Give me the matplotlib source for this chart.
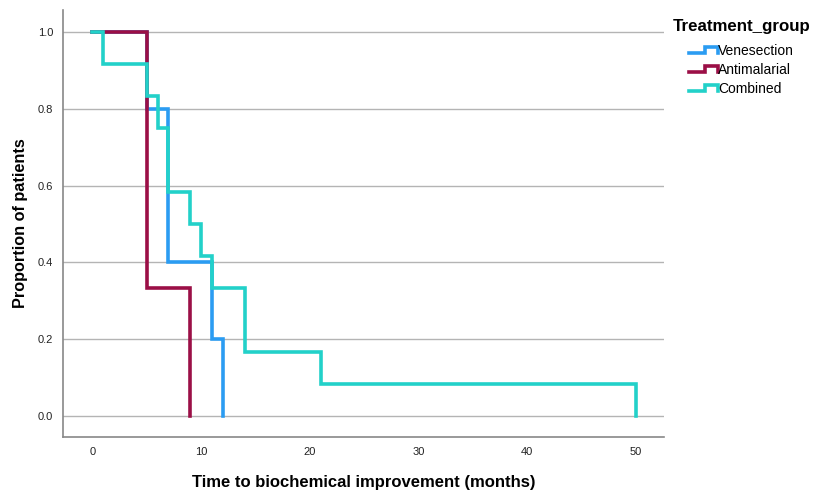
import matplotlib
matplotlib.use("Agg")
import matplotlib.pyplot as plt
from matplotlib.legend_handler import HandlerBase
from matplotlib.lines import Line2D

# Kaplan-Meier step data (time in months, proportion remaining)
venesection_t = [0, 5, 7, 11, 12]
venesection_p = [1.0, 0.8, 0.4, 0.2, 0.0]

antimalarial_t = [0, 5, 9]
antimalarial_p = [1.0, 0.333, 0.0]

combined_t = [0, 1, 5, 6, 7, 9, 10, 11, 14, 21, 50]
combined_p = [1.0, 0.917, 0.833, 0.75, 0.583, 0.5, 0.417, 0.333, 0.167, 0.083, 0.0]

group_names = ["Venesection", "Antimalarial", "Combined"]
colors = ["#2b9cf2", "#9b0f46", "#22d1c9"]

x_ticks = [0, 10, 20, 30, 40, 50]
y_ticks = [0.0, 0.2, 0.4, 0.6, 0.8, 1.0]

plt.rcParams["font.family"] = ["Liberation Sans", "DejaVu Sans"]


class StepHandler(HandlerBase):
    # draws a little step symbol like the SPSS legend
    def create_artists(self, legend, orig_handle, xdescent, ydescent,
                       width, height, fontsize, trans):
        x0, x1 = -xdescent, -xdescent + width
        ym = height / 2 - ydescent
        xs = [x0, x0 + width * 0.55, x0 + width * 0.55, x1, x1]
        ys = [ym - 2.0, ym - 2.0, ym + 2.0, ym + 2.0, ym - 2.0]
        line = Line2D(xs, ys, color=orig_handle.get_color(),
                      lw=orig_handle.get_linewidth(), transform=trans,
                      solid_joinstyle="miter")
        return [line]


fig = plt.figure(figsize=(8.13, 4.92), dpi=100)
ax = fig.add_axes([0.0775, 0.112, 0.7395, 0.868])

series = [(venesection_t, venesection_p),
          (antimalarial_t, antimalarial_p),
          (combined_t, combined_p)]
handles = []
for (t, p), name, c in zip(series, group_names, colors):
    h, = ax.step(t, p, where="post", color=c, lw=2.6, label=name,
                 solid_joinstyle="miter", zorder=3)
    handles.append(h)

ax.set_xlim(-2.7, 52.6)
ax.set_ylim(-0.055, 1.058)
ax.set_xticks(x_ticks)
ax.set_yticks(y_ticks)
ax.set_yticklabels([f"{v:.1f}" for v in y_ticks])
ax.tick_params(length=0, labelsize=8, colors="#222222", pad=7)
for lab in ax.get_xticklabels() + ax.get_yticklabels():
    lab.set_family(["Liberation Sans Narrow", "Liberation Sans"])
ax.yaxis.grid(True, color="#b4b4b4", lw=1.0)
ax.set_axisbelow(True)

for s in ["top", "right"]:
    ax.spines[s].set_visible(False)
for s in ["left", "bottom"]:
    ax.spines[s].set_color("#888888")
    ax.spines[s].set_linewidth(1.2)

ax.set_xlabel("Time to biochemical improvement (months)", fontsize=12,
              fontweight="bold", labelpad=13)
ax.set_ylabel("Proportion of patients", fontsize=11.7, fontweight="bold",
              labelpad=7)

fig.text(673 / 813, 1 - 27 / 492, "Treatment_group", fontsize=12.2,
         fontweight="bold", va="center", ha="left")

leg = fig.legend(handles=handles, labels=group_names,
                 loc="upper left", bbox_to_anchor=(689 / 813, 1 - 44 / 492),
                 frameon=False, fontsize=10, handler_map={Line2D: StepHandler()},
                 handlelength=2.1, handletextpad=0.0, labelspacing=0.35,
                 borderpad=0, borderaxespad=0)

fig.savefig("out.png", dpi=100, facecolor="white")
